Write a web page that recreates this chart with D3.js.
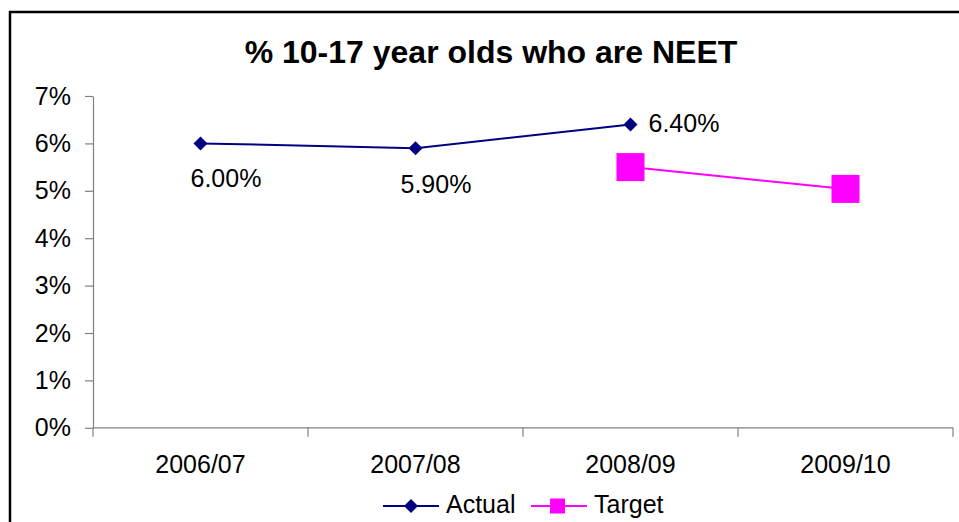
<!DOCTYPE html>
<html>
<head>
  <meta charset="utf-8">
  <title>% 10-17 year olds who are NEET</title>
  <script src="https://d3js.org/d3.v7.min.js"></script>
  <style>
    body { margin: 0; background: #fff; }
    text { font-family: "Liberation Sans", Arial, sans-serif; }
  </style>
</head>
<body>
<script>
  // chart data
  var years = ["2006/07", "2007/08", "2008/09", "2009/10"];
  var actual = [0.060, 0.059, 0.064, null];
  var target = [null, null, 0.055, 0.0504];
  var actualLabels = ["6.00%", "5.90%", "6.40%"];
  var yTicks = [0, 0.01, 0.02, 0.03, 0.04, 0.05, 0.06, 0.07];

  var W = 959, H = 522;
  var navy = "#000080", pink = "#FF00FF", axisGrey = "#808080";

  var svg = d3.select("body").append("svg")
    .attr("width", W)
    .attr("height", H);

  // outer chart frame (runs off the right and bottom of the picture)
  svg.append("rect")
    .attr("x", 10).attr("y", 12)
    .attr("width", 980).attr("height", 560)
    .attr("fill", "#fff")
    .attr("stroke", "#000")
    .attr("stroke-width", 2.5);

  svg.append("text")
    .attr("x", 491).attr("y", 62.5)
    .attr("text-anchor", "middle")
    .attr("font-size", 32)
    .attr("font-weight", "bold")
    .text("% 10-17 year olds who are NEET");

  var x = d3.scaleBand().domain(years).range([93, 953]).padding(0);
  var y = d3.scaleLinear().domain([0, 0.07]).range([427.8, 96]);

  // y axis
  var gy = svg.append("g").attr("transform", "translate(93,0)")
    .call(d3.axisLeft(y).tickValues(yTicks).tickFormat(d3.format(".0%"))
      .tickSizeInner(8).tickSizeOuter(0).tickPadding(14));
  gy.select(".domain").attr("stroke", axisGrey).attr("stroke-width", 1.2);
  gy.selectAll(".tick line").attr("stroke", axisGrey).attr("stroke-width", 1.2);
  gy.selectAll(".tick text").attr("font-size", 25).attr("fill", "#000")
    .attr("font-family", "'Liberation Sans', Arial, sans-serif");

  // x axis: ticks at category boundaries
  var gx = svg.append("g").attr("transform", "translate(0," + y(0) + ")");
  gx.append("line")
    .attr("x1", x.range()[0]).attr("x2", x.range()[1])
    .attr("stroke", axisGrey).attr("stroke-width", 1.2);
  var bounds = years.map(function(d) { return x(d); }).concat([x.range()[1]]);
  gx.selectAll(".bt").data(bounds).enter().append("line")
    .attr("x1", function(d) { return d; }).attr("x2", function(d) { return d; })
    .attr("y1", 0).attr("y2", 9)
    .attr("stroke", axisGrey).attr("stroke-width", 1.2);
  gx.selectAll(".xl").data(years).enter().append("text")
    .attr("x", function(d) { return x(d) + x.bandwidth() / 2; })
    .attr("y", 45)
    .attr("text-anchor", "middle")
    .attr("font-size", 25)
    .text(function(d) { return d; });

  var cx = function(i) { return x(years[i]) + x.bandwidth() / 2; };

  var line = d3.line()
    .defined(function(d) { return d != null; })
    .x(function(d, i) { return cx(i); })
    .y(function(d) { return y(d); });

  svg.append("path").datum(actual)
    .attr("d", line).attr("fill", "none")
    .attr("stroke", navy).attr("stroke-width", 2);
  svg.append("path").datum(target)
    .attr("d", line).attr("fill", "none")
    .attr("stroke", pink).attr("stroke-width", 2);

  var diamond = function(s) { return "M0," + (-s) + "L" + s + ",0L0," + s + "L" + (-s) + ",0Z"; };

  actual.forEach(function(v, i) {
    if (v == null) return;
    svg.append("path")
      .attr("transform", "translate(" + cx(i) + "," + y(v) + ")")
      .attr("d", diamond(7)).attr("fill", navy);
  });
  target.forEach(function(v, i) {
    if (v == null) return;
    svg.append("rect")
      .attr("x", cx(i) - 14).attr("y", y(v) - 14)
      .attr("width", 28).attr("height", 28)
      .attr("fill", pink);
  });

  // data labels (first two below the point, last one to the right)
  var labelDx = [-10, -15, 18];
  var labelDy = [44, 45, 8];
  actualLabels.forEach(function(t, i) {
    svg.append("text")
      .attr("x", cx(i) + labelDx[i])
      .attr("y", y(actual[i]) + labelDy[i])
      .attr("font-size", 25)
      .text(t);
  });

  // legend
  var lg = svg.append("g").attr("transform", "translate(0,506)");
  lg.append("line").attr("x1", 383).attr("x2", 439)
    .attr("stroke", navy).attr("stroke-width", 2);
  lg.append("path").attr("transform", "translate(411,0)")
    .attr("d", diamond(7)).attr("fill", navy);
  lg.append("text").attr("x", 446).attr("y", 7).attr("font-size", 25).text("Actual");
  lg.append("line").attr("x1", 531).attr("x2", 587)
    .attr("stroke", pink).attr("stroke-width", 2);
  lg.append("rect").attr("x", 550).attr("y", -7.5)
    .attr("width", 15).attr("height", 15).attr("fill", pink);
  lg.append("text").attr("x", 594).attr("y", 7).attr("font-size", 25).text("Target");
</script>
</body>
</html>
